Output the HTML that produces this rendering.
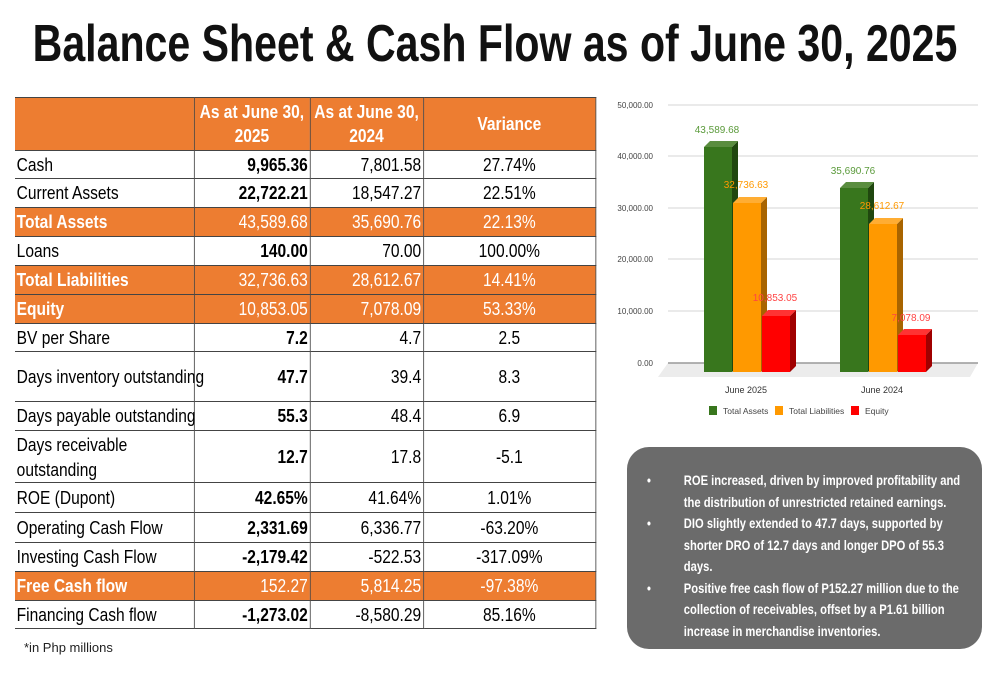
<!DOCTYPE html>
<html><head><meta charset="utf-8"><style>
body{margin:0;width:1000px;height:685px;background:#fff;position:relative;overflow:hidden;font-family:"Liberation Sans",sans-serif}
.title{position:absolute;left:495px;top:14px;white-space:nowrap;font-weight:bold;font-size:52px;line-height:60px;color:#111;transform:translateX(-50%) scaleX(0.79);transform-origin:center top}
.tw{position:absolute;left:15px;top:97px;transform:scaleX(0.84);transform-origin:left top}
table{border-collapse:collapse;font-size:18.5px;table-layout:fixed;width:691px}
td{border:1px solid #444;padding:0 2px;color:#000;white-space:nowrap}
td.l{border-left:none;text-align:left}
.n{text-align:right}.b{font-weight:bold}.c{text-align:center}
tr.o td{background:#ed7d31;color:#fff}
tr.o td.l{font-weight:bold}
tr.h td{background:#ed7d31;color:#fff;font-weight:bold;text-align:center;line-height:24px}
.box{position:absolute;left:627px;top:447px;width:355px;height:202px;background:#6b6b6b;border-radius:22px}
.box ul{margin:0;padding:0;list-style:none;position:absolute;left:20px;top:23px;width:400px;color:#fff;font-weight:bold;font-size:14px;line-height:21.5px;transform:scaleX(0.8);transform-origin:left top}
.box li{position:relative;padding-left:46px}
.box li:before{content:"•";position:absolute;left:0}
.foot{position:absolute;left:24px;top:640px;font-size:13px;color:#222}
</style></head><body>
<div class="title">Balance Sheet &amp; Cash Flow as of June 30, 2025</div>
<div class="tw"><table>
<colgroup><col style="width:213px"><col style="width:138px"><col style="width:135px"><col style="width:205px"></colgroup>
<tr class="h" style="height:53px"><td class="l"></td><td>As at June 30,<br>2025</td><td>As at June 30,<br>2024</td><td>Variance</td></tr>
<tr style="height:28px"><td class="l">Cash</td><td class="n b">9,965.36</td><td class="n">7,801.58</td><td class="c">27.74%</td></tr>
<tr style="height:29px"><td class="l">Current Assets</td><td class="n b">22,722.21</td><td class="n">18,547.27</td><td class="c">22.51%</td></tr>
<tr class="o" style="height:29px"><td class="l">Total Assets</td><td class="n">43,589.68</td><td class="n">35,690.76</td><td class="c">22.13%</td></tr>
<tr style="height:29px"><td class="l">Loans</td><td class="n b">140.00</td><td class="n">70.00</td><td class="c">100.00%</td></tr>
<tr class="o" style="height:29px"><td class="l">Total Liabilities</td><td class="n">32,736.63</td><td class="n">28,612.67</td><td class="c">14.41%</td></tr>
<tr class="o" style="height:29px"><td class="l">Equity</td><td class="n">10,853.05</td><td class="n">7,078.09</td><td class="c">53.33%</td></tr>
<tr style="height:28px"><td class="l">BV per Share</td><td class="n b">7.2</td><td class="n">4.7</td><td class="c">2.5</td></tr>
<tr style="height:50px"><td class="l">Days inventory outstanding</td><td class="n b">47.7</td><td class="n">39.4</td><td class="c">8.3</td></tr>
<tr style="height:29px"><td class="l">Days payable outstanding</td><td class="n b">55.3</td><td class="n">48.4</td><td class="c">6.9</td></tr>
<tr style="height:52px"><td class="l" style="line-height:25px">Days receivable<br>outstanding</td><td class="n b">12.7</td><td class="n">17.8</td><td class="c">-5.1</td></tr>
<tr style="height:30px"><td class="l">ROE (Dupont)</td><td class="n b">42.65%</td><td class="n">41.64%</td><td class="c">1.01%</td></tr>
<tr style="height:30px"><td class="l">Operating Cash Flow</td><td class="n b">2,331.69</td><td class="n">6,336.77</td><td class="c">-63.20%</td></tr>
<tr style="height:29px"><td class="l">Investing Cash Flow</td><td class="n b">-2,179.42</td><td class="n">-522.53</td><td class="c">-317.09%</td></tr>
<tr class="o" style="height:29px"><td class="l">Free Cash flow</td><td class="n">152.27</td><td class="n">5,814.25</td><td class="c">-97.38%</td></tr>
<tr style="height:28px"><td class="l">Financing Cash flow</td><td class="n b">-1,273.02</td><td class="n">-8,580.29</td><td class="c">85.16%</td></tr>
</table></div>
<svg style="position:absolute;left:0;top:0" width="1000" height="685" font-family="Liberation Sans, sans-serif">
<g font-size="8" fill="#444" text-anchor="end">
<text x="653" y="108">50,000.00</text><text x="653" y="159">40,000.00</text><text x="653" y="211">30,000.00</text><text x="653" y="262">20,000.00</text><text x="653" y="314">10,000.00</text><text x="653" y="366">0.00</text></g>
<g stroke="#e4e4e4" stroke-width="1.5"><line x1="668" y1="105" x2="978" y2="105"/><line x1="668" y1="156" x2="978" y2="156"/><line x1="668" y1="208" x2="978" y2="208"/><line x1="668" y1="259" x2="978" y2="259"/><line x1="668" y1="311" x2="978" y2="311"/></g>
<polygon points="668,363 978,363 970,377 658,377" fill="#ececec"/>
<line x1="668" y1="363" x2="978" y2="363" stroke="#999" stroke-width="1.5"/>
<g>
<rect x="704" y="147" width="28" height="225" fill="#38761d"/><polygon points="732,147 738,141 738,366 732,372" fill="#20470f"/><polygon points="704,147 710,141 738,141 732,147" fill="#5a8d3f"/>
<rect x="733" y="203" width="28" height="169" fill="#ff9900"/><polygon points="761,203 767,197 767,366 761,372" fill="#a86400"/><polygon points="733,203 739,197 767,197 761,203" fill="#ffad33"/>
<rect x="762" y="316" width="28" height="56" fill="#ff0000"/><polygon points="790,316 796,310 796,366 790,372" fill="#a00000"/><polygon points="762,316 768,310 796,310 790,316" fill="#ff3333"/>
<rect x="840" y="188" width="28" height="184" fill="#38761d"/><polygon points="868,188 874,182 874,366 868,372" fill="#20470f"/><polygon points="840,188 846,182 874,182 868,188" fill="#5a8d3f"/>
<rect x="869" y="224" width="28" height="148" fill="#ff9900"/><polygon points="897,224 903,218 903,366 897,372" fill="#a86400"/><polygon points="869,224 875,218 903,218 897,224" fill="#ffad33"/>
<rect x="898" y="335" width="28" height="37" fill="#ff0000"/><polygon points="926,335 932,329 932,366 926,372" fill="#a00000"/><polygon points="898,335 904,329 932,329 926,335" fill="#ff3333"/>
</g>
<g font-size="10" text-anchor="middle">
<text x="717" y="133" fill="#5a9a3a">43,589.68</text><text x="746" y="188" fill="#ff9900">32,736.63</text><text x="775" y="301" fill="#ff4444">10,853.05</text>
<text x="853" y="174" fill="#5a9a3a">35,690.76</text><text x="882" y="209" fill="#ff9900">28,612.67</text><text x="911" y="321" fill="#ff4444">7,078.09</text></g>
<g font-size="9" fill="#333" text-anchor="middle"><text x="746" y="393">June 2025</text><text x="882" y="393">June 2024</text></g>
<g font-size="8.5" fill="#444">
<rect x="709" y="406" width="8" height="9" fill="#38761d"/><text x="723" y="414">Total Assets</text>
<rect x="775" y="406" width="8" height="9" fill="#ff9900"/><text x="789" y="414">Total Liabilities</text>
<rect x="851" y="406" width="8" height="9" fill="#ff0000"/><text x="865" y="414">Equity</text></g>
</svg>
<div class="box"><ul>
<li>ROE increased, driven by improved profitability and the distribution of unrestricted retained earnings.</li>
<li>DIO slightly extended to 47.7 days, supported by shorter DRO of 12.7 days and longer DPO of 55.3 days.</li>
<li>Positive free cash flow of P152.27 million due to the collection of receivables, offset by a P1.61 billion increase in merchandise inventories.</li>
</ul></div>
<div class="foot">*in Php millions</div>
</body></html>
